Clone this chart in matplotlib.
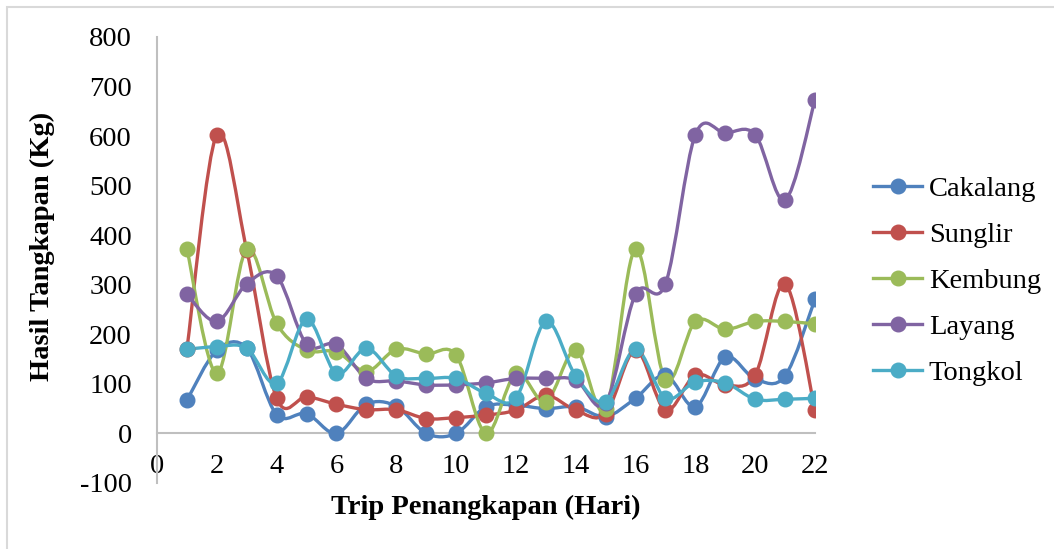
import matplotlib as mpl
import matplotlib.pyplot as plt
from matplotlib.path import Path
from matplotlib.patches import PathPatch, Rectangle
from matplotlib.lines import Line2D

mpl.rcParams.update({
    "font.family": "Liberation Serif",
    "axes.unicode_minus": False,
    "text.color": "black",
    "xtick.color": "black",
    "ytick.color": "black",
})

# --- data ---
trips = list(range(1, 23))
cakalang = [67, 168, 172, 38, 40, 0, 59, 55, 0, 0, 54, 57, 50, 54, 34, 71, 118, 54, 154, 110, 116, 271]
sunglir = [170, 603, 370, 71, 74, 59, 48, 48, 30, 32, 37, 47, 77, 47, 40, 168, 47, 118, 98, 118, 302, 47]
kembung = [372, 121, 372, 222, 168, 165, 125, 170, 160, 158, 0, 121, 64, 168, 50, 372, 108, 226, 210, 226, 226, 221]
layang = [281, 226, 302, 318, 180, 180, 111, 106, 98, 98, 102, 111, 111, 108, 61, 281, 302, 603, 606, 603, 471, 673]
tongkol = [170, 175, 172, 101, 230, 121, 172, 116, 111, 111, 81, 71, 226, 116, 64, 170, 71, 104, 102, 69, 69, 71]

series_names = ["Cakalang", "Sunglir", "Kembung", "Layang", "Tongkol"]
series_values = [cakalang, sunglir, kembung, layang, tongkol]
colors = ["#4F81BD", "#C0504D", "#9BBB59", "#8064A2", "#4BACC6"]

x_ticks = list(range(0, 23, 2))
y_ticks = list(range(-100, 801, 100))


def smooth_path(xs, ys):
    """Excel-like smoothed line: cubic Bezier through every point."""
    pts = list(zip(xs, ys))
    verts = [pts[0]]
    codes = [Path.MOVETO]
    n = len(pts)
    for i in range(n - 1):
        p0 = pts[i - 1] if i > 0 else pts[i]
        p1 = pts[i]
        p2 = pts[i + 1]
        p3 = pts[i + 2] if i + 2 < n else pts[i + 1]
        c1 = (p1[0] + (p2[0] - p0[0]) / 6, p1[1] + (p2[1] - p0[1]) / 6)
        c2 = (p2[0] - (p3[0] - p1[0]) / 6, p2[1] - (p3[1] - p1[1]) / 6)
        verts += [c1, c2, p2]
        codes += [Path.CURVE4] * 3
    return Path(verts, codes)


fig = plt.figure(figsize=(10.54, 5.49), dpi=100)
ax = fig.add_axes([157 / 1054, 66 / 549, 658 / 1054, 446 / 549])

# outer chart frame
fig.patches.append(Rectangle((7 / 1054, -0.1), 1.2, 1 - 7 / 549 + 0.1,
                             transform=fig.transFigure, fill=False,
                             edgecolor="#D9D9D9", linewidth=1.5))

handles = []
for name, vals, col in zip(series_names, series_values, colors):
    ax.add_patch(PathPatch(smooth_path(trips, vals), fill=False,
                           edgecolor=col, linewidth=2.4, capstyle="round",
                           joinstyle="round", zorder=3))
    ax.plot(trips, vals, linestyle="none", marker="o", markersize=10.5,
            color=col, zorder=4)
    handles.append(Line2D([], [], color=col, linewidth=2.4, marker="o",
                          markersize=10.5, label=name))

ax.set_xlim(0, 22)
ax.set_ylim(-100, 800)
ax.set_xticks(x_ticks)
ax.set_yticks(y_ticks)

for side in ["top", "right"]:
    ax.spines[side].set_visible(False)
ax.spines["bottom"].set_position(("data", 0))
for side in ["left", "bottom"]:
    ax.spines[side].set_color("#BFBFBF")
    ax.spines[side].set_linewidth(1.5)

ax.tick_params(axis="both", length=0, labelsize=20.5)
ax.tick_params(axis="x", pad=15)
ax.tick_params(axis="y", pad=18)

fig.text(486 / 1054, 1 - 507 / 549, "Trip Penangkapan (Hari)",
         ha="center", va="center", fontsize=20.5, fontweight="bold")
fig.text(42 / 1054, 1 - 246 / 549, "Hasil Tangkapan (Kg)",
         ha="center", va="center", rotation=90, fontsize=20.5, fontweight="bold")

fig.legend(handles=handles, loc="upper left",
           bbox_to_anchor=(862 / 1054, 1 - 165 / 549), frameon=False,
           fontsize=20.5, handlelength=1.7, handletextpad=0.25,
           labelspacing=0.7, borderaxespad=0)

fig.savefig("out.png", dpi=100)
